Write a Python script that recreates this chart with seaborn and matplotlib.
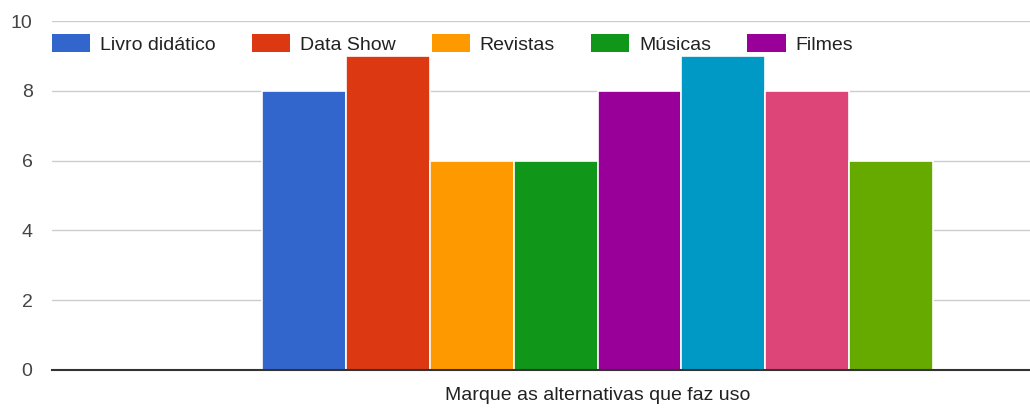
import matplotlib
matplotlib.use("Agg")
import matplotlib.pyplot as plt
import seaborn as sns
import pandas as pd
from matplotlib.patches import Patch

# Survey answers: how many respondents use each teaching resource
question = "Marque as alternativas que faz uso"
resources = ["Livro didático", "Data Show", "Revistas", "Músicas", "Filmes",
             "Internet", "Jornais", "Jogos"]
counts = [8, 9, 6, 6, 8, 9, 8, 6]
colors = ["#3366cc", "#dc3912", "#ff9900", "#109618", "#990099",
          "#0099c6", "#dd4477", "#66aa00"]
legend_shown = 5  # legend row only has room for the first entries
yticks = [0, 2, 4, 6, 8, 10]

df = pd.DataFrame({"pergunta": [question] * len(resources),
                   "recurso": resources,
                   "total": counts})

sns.set_theme(style="white")
plt.rcParams["font.family"] = ["Liberation Sans", "DejaVu Sans"]

W, H = 1030, 408
fig = plt.figure(figsize=(W / 100, H / 100), dpi=100)
# plot area runs past the right edge of the canvas
ax = fig.add_axes([52 / W, 38 / H, (1143 - 52) / W, 349 / H])

sns.barplot(data=df, x="pergunta", y="total", hue="recurso",
            hue_order=resources, palette=colors, width=0.615,
            edgecolor="white", linewidth=1.2, saturation=1,
            legend=False, ax=ax)

ax.set_xlim(-0.5, 0.5)
ax.set_ylim(0, 10)
ax.set_yticks(yticks)
ax.set_yticklabels([str(t) for t in yticks])
ax.tick_params(axis="y", length=0, pad=14, labelsize=14, labelcolor="#444444")
ax.set_xticks([])
ax.set_xlabel(question, fontsize=14, color="#222222", labelpad=12)
ax.set_ylabel("")

ax.yaxis.grid(True, color="#cccccc", linewidth=1)
ax.set_axisbelow(True)
for side in ["top", "right", "left"]:
    ax.spines[side].set_visible(False)
ax.spines["bottom"].set_color("#333333")
ax.spines["bottom"].set_linewidth(1.5)
ax.spines["bottom"].set_zorder(5)

handles = [Patch(facecolor=c, edgecolor="none") for c in colors[:legend_shown]]
fig.legend(handles, resources[:legend_shown], loc="center left",
           bbox_to_anchor=(52 / W, (H - 44) / H), ncol=legend_shown,
           frameon=False, fontsize=14, handlelength=1.96, handleheight=1.03,
           handletextpad=0.5, columnspacing=1.87, borderpad=0,
           borderaxespad=0, labelcolor="#222222")

fig.savefig("out.png", dpi=100)
